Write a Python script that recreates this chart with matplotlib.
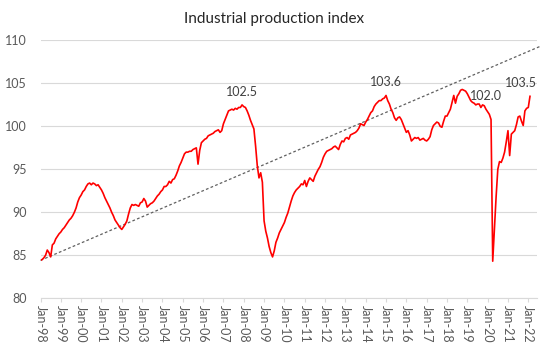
import numpy as np
import matplotlib
matplotlib.use("Agg")
import matplotlib.pyplot as plt

plt.rcParams['font.family'] = ['Lato', 'DejaVu Sans']

# monthly index values, Jan-98 .. Feb-22
y1998 = [84.4, 84.5, 84.7, 85.0, 85.6, 85.3, 84.8, 86.2, 86.4, 86.9, 87.2, 87.5]
y1999 = [87.7, 88.0, 88.2, 88.5, 88.8, 89.1, 89.3, 89.6, 90.0, 90.5, 91.2, 91.7]
y2000 = [92.0, 92.4, 92.6, 93.0, 93.3, 93.4, 93.2, 93.4, 93.3, 93.1, 93.2, 92.9]
y2001 = [92.6, 92.2, 91.7, 91.3, 90.9, 90.5, 90.0, 89.6, 89.1, 88.8, 88.5, 88.2]
y2002 = [88.0, 88.3, 88.6, 89.0, 89.8, 90.5, 90.9, 90.8, 90.9, 90.8, 90.7, 91.1]
y2003 = [91.2, 91.6, 91.3, 90.6, 90.8, 91.0, 91.1, 91.3, 91.6, 91.9, 92.1, 92.4]
y2004 = [92.6, 93.0, 93.0, 93.2, 93.6, 93.4, 93.8, 93.9, 94.3, 94.8, 95.4, 95.8]
y2005 = [96.3, 96.8, 97.0, 97.0, 97.1, 97.1, 97.3, 97.4, 97.5, 95.6, 97.2, 98.1]
y2006 = [98.3, 98.5, 98.6, 98.9, 99.0, 99.1, 99.2, 99.4, 99.5, 99.6, 99.3, 99.5]
y2007 = [100.3, 100.8, 101.3, 101.8, 101.9, 102.0, 101.9, 102.1, 102.0, 102.2, 102.2, 102.5]
y2008 = [102.3, 102.2, 101.8, 101.3, 100.7, 100.2, 99.7, 97.7, 95.4, 94.0, 94.6, 93.5]
y2009 = [89.0, 87.8, 87.0, 86.0, 85.3, 84.8, 85.5, 86.5, 87.0, 87.6, 88.0, 88.4]
y2010 = [88.8, 89.4, 89.9, 90.6, 91.3, 91.9, 92.3, 92.6, 92.8, 93.0, 93.3, 93.2]
y2011 = [93.7, 93.0, 93.6, 94.0, 93.8, 93.6, 94.2, 94.6, 95.0, 95.3, 95.8, 96.4]
y2012 = [96.8, 97.1, 97.2, 97.3, 97.4, 97.6, 97.7, 97.5, 97.3, 97.9, 98.3, 98.2]
y2013 = [98.6, 98.7, 98.5, 99.0, 99.1, 99.2, 99.3, 99.5, 99.8, 100.3, 100.2, 100.1]
y2014 = [100.5, 100.8, 101.2, 101.6, 101.8, 102.3, 102.6, 102.8, 103.0, 103.0, 103.2, 103.3]
y2015 = [103.6, 103.0, 102.6, 102.0, 101.6, 101.0, 100.7, 101.0, 101.1, 100.8, 100.3, 99.8]
y2016 = [99.3, 99.5, 99.0, 98.3, 98.5, 98.7, 98.6, 98.7, 98.4, 98.5, 98.6, 98.4]
y2017 = [98.3, 98.5, 98.8, 99.6, 100.1, 100.3, 100.5, 100.4, 100.0, 99.9, 100.6, 101.2]
y2018 = [101.2, 101.6, 102.0, 102.8, 103.6, 102.7, 103.5, 103.8, 104.2, 104.3, 104.2, 104.1]
y2019 = [103.8, 103.4, 103.0, 102.8, 102.7, 102.5, 102.6, 102.6, 102.2, 102.5, 102.4, 102.0]
y2020 = [101.7, 101.4, 100.8, 84.3, 88.0, 91.8, 95.0, 95.9, 95.8, 96.3, 97.0, 98.2]
y2021 = [99.5, 96.6, 99.1, 99.3, 99.5, 100.2, 101.1, 101.2, 100.6, 100.1, 101.8, 102.1]
y2022 = [102.2, 103.5]

values = (y1998 + y1999 + y2000 + y2001 + y2002 + y2003 + y2004 + y2005 + y2006
          + y2007 + y2008 + y2009 + y2010 + y2011 + y2012 + y2013 + y2014 + y2015
          + y2016 + y2017 + y2018 + y2019 + y2020 + y2021 + y2022)
values = np.array(values)
months = np.arange(len(values))

tick_labels = ["Jan-%02d" % (y % 100) for y in range(1998, 2023)]

# dashed trend line as drawn on the chart: value at start and at its right end
trend_months = [0, 296]
trend_values = [84.4, 109.4]

# labelled points: (month index, text)
labelled = [(119, "102.5"), (204, "103.6"), (263, "102.0")]

fig = plt.figure(figsize=(5.4, 3.52), dpi=100)
ax = fig.add_axes([0.075, 0.153, 0.919, 0.732])

ax.plot(trend_months, trend_values, color="#606060", lw=0.9, ls=(0, (2.2, 1.8)),
        clip_on=False, zorder=2)

ax.plot(months, values, color="#ff0000", lw=1.2, zorder=3)

for m, txt in labelled:
    ax.annotate(txt, (m, values[m]), xytext=(0, 9.5), textcoords="offset points",
                ha="center", va="center", fontsize=9, color="#404040")
ax.annotate("103.5", (months[-1], values[-1]), xytext=(5, 9.5), textcoords="offset points",
            ha="right", va="center", fontsize=9, color="#404040")

ax.set_xlim(0, 293)
ax.set_ylim(80, 110)
ax.set_yticks(range(80, 111, 5))
ax.set_xticks(range(0, 289, 12))
ax.set_xticklabels(tick_labels, rotation=-90)
ax.grid(axis="y", color="#d9d9d9", lw=0.8)
ax.set_axisbelow(True)
for s in ["top", "right", "left"]:
    ax.spines[s].set_visible(False)
ax.spines["bottom"].set_color("#d9d9d9")
ax.tick_params(axis="y", length=0, pad=10, labelsize=9, labelcolor="#595959")
ax.tick_params(axis="x", length=3, color="#d9d9d9", pad=2, labelsize=9, labelcolor="#595959")

fig.text(0.507, 0.945, "Industrial production index", ha="center", va="center",
         fontsize=11, color="#262626")

fig.savefig("out.png", dpi=100)
